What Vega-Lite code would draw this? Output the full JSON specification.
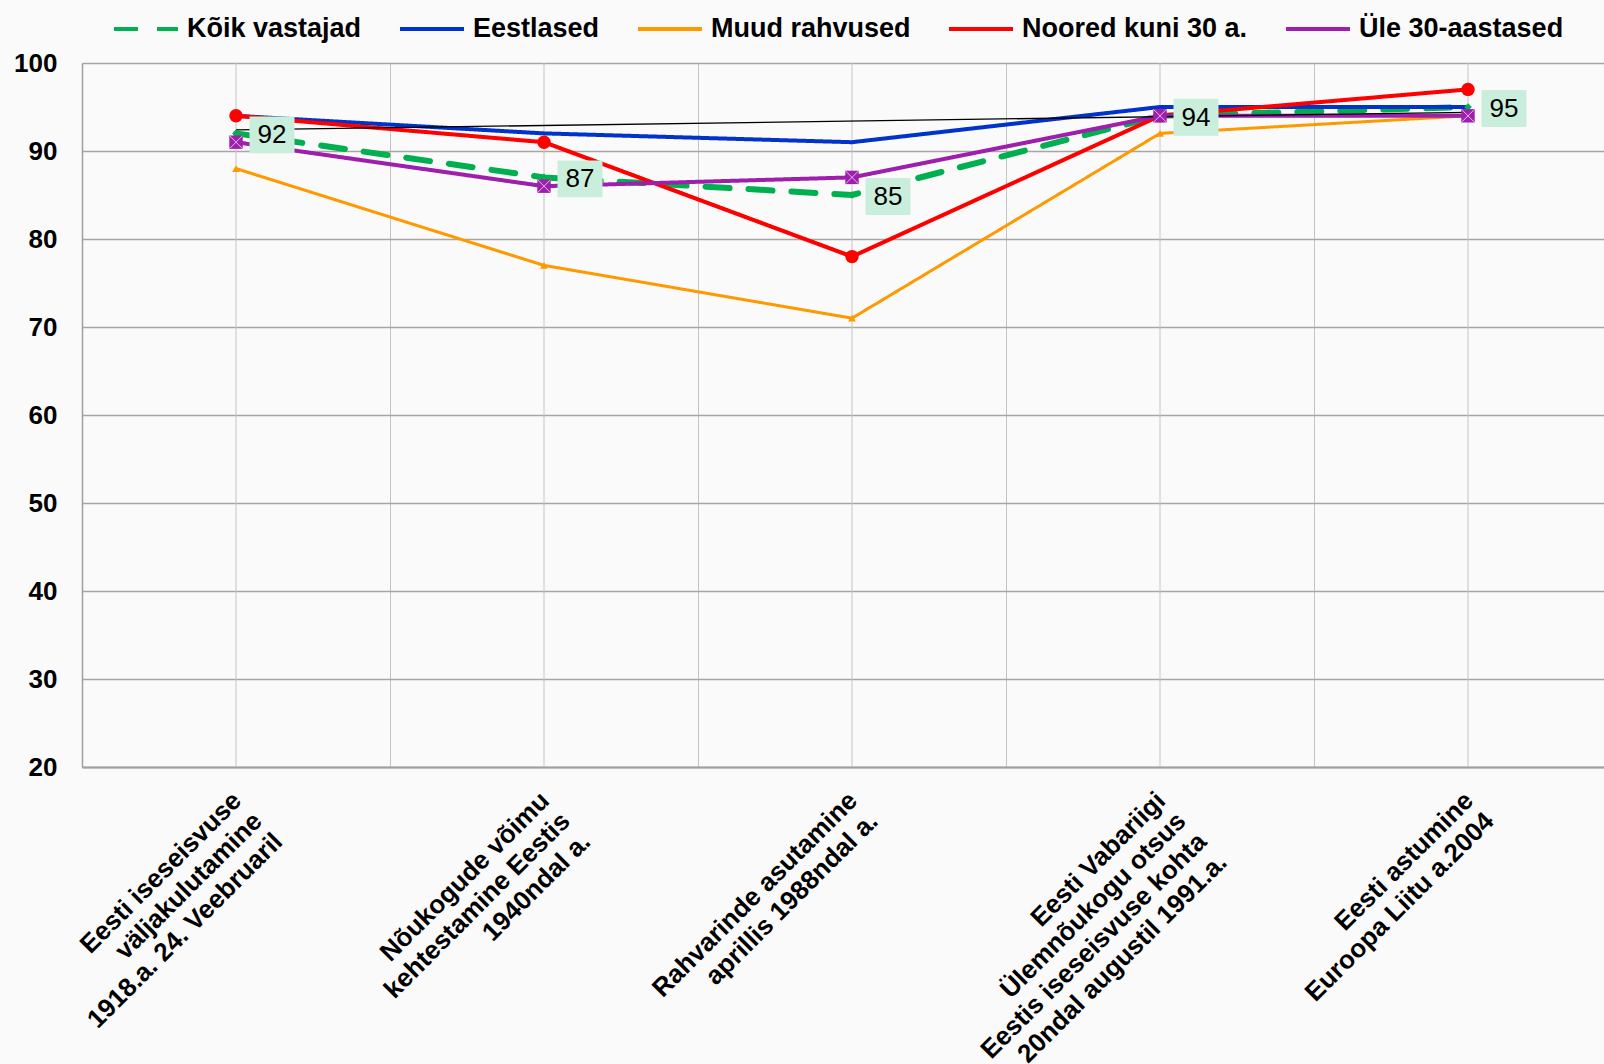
{
  "$schema": "https://vega.github.io/schema/vega-lite/v6.json",
  "width": 1522,
  "height": 704,
  "autosize": "none",
  "padding": {"left": 82, "top": 63, "right": 0, "bottom": 297},
  "background": "#fafafa",
  "config": {
    "view": {"stroke": null},
    "font": "Liberation Sans",
    "axis": {"title": null}
  },
  "datasets": {
    "d": [
      {"cat": "Eesti iseseisvuse|väljakulutamine|1918.a. 24. Veebruaril", "series": "Kõik vastajad", "value": 92},
      {"cat": "Nõukogude võimu|kehtestamine Eestis|1940ndal a.", "series": "Kõik vastajad", "value": 87},
      {"cat": "Rahvarinde asutamine|aprillis 1988ndal a.", "series": "Kõik vastajad", "value": 85},
      {"cat": "Eesti Vabariigi|Ülemnõukogu otsus|Eestis iseseisvuse kohta|20ndal augustil 1991.a.", "series": "Kõik vastajad", "value": 94},
      {"cat": "Eesti astumine|Euroopa Liitu a.2004", "series": "Kõik vastajad", "value": 95},
      {"cat": "Eesti iseseisvuse|väljakulutamine|1918.a. 24. Veebruaril", "series": "Eestlased", "value": 94},
      {"cat": "Nõukogude võimu|kehtestamine Eestis|1940ndal a.", "series": "Eestlased", "value": 92},
      {"cat": "Rahvarinde asutamine|aprillis 1988ndal a.", "series": "Eestlased", "value": 91},
      {"cat": "Eesti Vabariigi|Ülemnõukogu otsus|Eestis iseseisvuse kohta|20ndal augustil 1991.a.", "series": "Eestlased", "value": 95},
      {"cat": "Eesti astumine|Euroopa Liitu a.2004", "series": "Eestlased", "value": 95},
      {"cat": "Eesti iseseisvuse|väljakulutamine|1918.a. 24. Veebruaril", "series": "Muud rahvused", "value": 88},
      {"cat": "Nõukogude võimu|kehtestamine Eestis|1940ndal a.", "series": "Muud rahvused", "value": 77},
      {"cat": "Rahvarinde asutamine|aprillis 1988ndal a.", "series": "Muud rahvused", "value": 71},
      {"cat": "Eesti Vabariigi|Ülemnõukogu otsus|Eestis iseseisvuse kohta|20ndal augustil 1991.a.", "series": "Muud rahvused", "value": 92},
      {"cat": "Eesti astumine|Euroopa Liitu a.2004", "series": "Muud rahvused", "value": 94},
      {"cat": "Eesti iseseisvuse|väljakulutamine|1918.a. 24. Veebruaril", "series": "Noored kuni 30 a.", "value": 94},
      {"cat": "Nõukogude võimu|kehtestamine Eestis|1940ndal a.", "series": "Noored kuni 30 a.", "value": 91},
      {"cat": "Rahvarinde asutamine|aprillis 1988ndal a.", "series": "Noored kuni 30 a.", "value": 78},
      {"cat": "Eesti Vabariigi|Ülemnõukogu otsus|Eestis iseseisvuse kohta|20ndal augustil 1991.a.", "series": "Noored kuni 30 a.", "value": 94},
      {"cat": "Eesti astumine|Euroopa Liitu a.2004", "series": "Noored kuni 30 a.", "value": 97},
      {"cat": "Eesti iseseisvuse|väljakulutamine|1918.a. 24. Veebruaril", "series": "Üle 30-aastased", "value": 91},
      {"cat": "Nõukogude võimu|kehtestamine Eestis|1940ndal a.", "series": "Üle 30-aastased", "value": 86},
      {"cat": "Rahvarinde asutamine|aprillis 1988ndal a.", "series": "Üle 30-aastased", "value": 87},
      {"cat": "Eesti Vabariigi|Ülemnõukogu otsus|Eestis iseseisvuse kohta|20ndal augustil 1991.a.", "series": "Üle 30-aastased", "value": 94},
      {"cat": "Eesti astumine|Euroopa Liitu a.2004", "series": "Üle 30-aastased", "value": 94}
    ],
    "trend": [
      {"cat": "Eesti iseseisvuse|väljakulutamine|1918.a. 24. Veebruaril", "value": 92.4},
      {"cat": "Eesti astumine|Euroopa Liitu a.2004", "value": 94.4}
    ]
  },
  "layer": [
    {
      "data": {"name": "d"},
      "transform": [{"filter": "datum.series == 'Kõik vastajad'"}],
      "mark": {"type": "rule", "color": "#c4c4c4", "strokeWidth": 1},
      "encoding": {
        "x": {"field": "cat", "type": "nominal", "sort": null,
          "scale": {"domain": ["Eesti iseseisvuse|väljakulutamine|1918.a. 24. Veebruaril", "Nõukogude võimu|kehtestamine Eestis|1940ndal a.", "Rahvarinde asutamine|aprillis 1988ndal a.", "Eesti Vabariigi|Ülemnõukogu otsus|Eestis iseseisvuse kohta|20ndal augustil 1991.a.", "Eesti astumine|Euroopa Liitu a.2004"], "range": [0, 1540], "paddingInner": 0, "paddingOuter": 0}}
      }
    },
    {
      "data": {"name": "d"},
      "mark": {"type": "line", "strokeCap": "round", "strokeJoin": "round"},
      "encoding": {
        "x": {"field": "cat", "type": "nominal", "sort": null,
          "scale": {"domain": ["Eesti iseseisvuse|väljakulutamine|1918.a. 24. Veebruaril", "Nõukogude võimu|kehtestamine Eestis|1940ndal a.", "Rahvarinde asutamine|aprillis 1988ndal a.", "Eesti Vabariigi|Ülemnõukogu otsus|Eestis iseseisvuse kohta|20ndal augustil 1991.a.", "Eesti astumine|Euroopa Liitu a.2004"], "range": [0, 1540], "paddingInner": 0, "paddingOuter": 0},
          "axis": {
            "bandPosition": 0, "grid": true, "gridColor": "#c4c4c4", "gridWidth": 1,
            "ticks": false, "domainColor": "#a0a0a0", "domainWidth": 2,
            "labelExpr": "split(datum.label, '|')",
            "labelAngle": -45, "labelAlign": "right", "labelBaseline": "top",
            "labelFont": "Liberation Sans", "labelFontSize": 26, "labelFontWeight": "bold",
            "labelLineHeight": 29, "labelColor": "#000000",
            "labelOffset": -8, "labelPadding": 20, "labelLimit": 1000, "labelOverlap": false
          }
        },
        "y": {"field": "value", "type": "quantitative",
          "scale": {"domain": [20, 100], "nice": false, "zero": false},
          "axis": {
            "values": [20, 30, 40, 50, 60, 70, 80, 90, 100],
            "grid": true, "gridColor": "#a6a6a6", "gridWidth": 1.5,
            "ticks": false, "domainColor": "#a0a0a0", "domainWidth": 1.5,
            "labelFont": "Liberation Sans", "labelFontSize": 26, "labelFontWeight": "bold",
            "labelColor": "#000000", "labelPadding": 25
          }
        },
        "color": {"field": "series", "type": "nominal",
          "scale": {"domain": ["Kõik vastajad", "Eestlased", "Muud rahvused", "Noored kuni 30 a.", "Üle 30-aastased"],
                    "range": ["#00b050", "#0033cc", "#ff9900", "#ff0000", "#9d1fab"]},
          "legend": {
            "title": null, "orient": "none", "legendX": 30, "legendY": -68,
            "direction": "horizontal", "columns": 5, "gridAlign": "none", "columnPadding": 30,
            "symbolType": "stroke", "symbolSize": 4096, "symbolStrokeWidth": 4,
            "labelFont": "Liberation Sans", "labelFontSize": 27, "labelFontWeight": "bold",
            "labelColor": "#000000", "labelOffset": 7, "labelLimit": 500
          }
        },
        "strokeDash": {"field": "series", "type": "nominal",
          "scale": {"domain": ["Kõik vastajad", "Eestlased", "Muud rahvused", "Noored kuni 30 a.", "Üle 30-aastased"],
                    "range": [[24, 19], [1, 0], [1, 0], [1, 0], [1, 0]]}
        },
        "strokeWidth": {
          "condition": [
            {"test": "datum.series == 'Kõik vastajad'", "value": 6},
            {"test": "datum.series == 'Muud rahvused'", "value": 3}
          ],
          "value": 4
        }
      }
    },
    {
      "data": {"name": "trend"},
      "mark": {"type": "line", "color": "#000000", "strokeWidth": 1.3},
      "encoding": {
        "x": {"field": "cat", "type": "nominal", "sort": null},
        "y": {"field": "value", "type": "quantitative", "scale": {"domain": [20, 100], "nice": false, "zero": false}}
      }
    },
    {
      "data": {"name": "d"},
      "transform": [{"filter": "datum.series != 'Eestlased'"}],
      "mark": {"type": "point", "filled": true, "opacity": 1},
      "encoding": {
        "x": {"field": "cat", "type": "nominal", "sort": null},
        "y": {"field": "value", "type": "quantitative", "scale": {"domain": [20, 100], "nice": false, "zero": false}},
        "color": {"field": "series", "type": "nominal", "legend": null},
        "shape": {"field": "series", "type": "nominal", "legend": null,
          "scale": {"domain": ["Kõik vastajad", "Muud rahvused", "Noored kuni 30 a.", "Üle 30-aastased"],
                    "range": ["diamond", "triangle-up", "circle", "square"]}},
        "size": {
          "condition": [
            {"test": "datum.series == 'Noored kuni 30 a.'", "value": 180},
            {"test": "datum.series == 'Üle 30-aastased'", "value": 180}
          ],
          "value": 60
        }
      }
    },
    {
      "data": {"name": "d"},
      "transform": [{"filter": "datum.series == 'Üle 30-aastased'"}],
      "mark": {"type": "point", "shape": "M-1,-1L1,1M1,-1L-1,1", "filled": false, "stroke": "#e6b8ee", "strokeWidth": 1, "size": 170, "opacity": 1},
      "encoding": {
        "x": {"field": "cat", "type": "nominal", "sort": null},
        "y": {"field": "value", "type": "quantitative", "scale": {"domain": [20, 100], "nice": false, "zero": false}}
      }
    },
    {
      "data": {"name": "d"},
      "transform": [{"filter": "datum.series == 'Kõik vastajad'"}],
      "mark": {"type": "point", "shape": "M-1,-0.82H1V0.82H-1Z", "filled": true, "color": "#c9eedb", "size": 2025, "opacity": 1, "xOffset": 36, "yOffset": 1.5},
      "encoding": {
        "x": {"field": "cat", "type": "nominal", "sort": null},
        "y": {"field": "value", "type": "quantitative", "scale": {"domain": [20, 100], "nice": false, "zero": false}}
      }
    },
    {
      "data": {"name": "d"},
      "transform": [{"filter": "datum.series == 'Kõik vastajad'"}],
      "mark": {"type": "text", "font": "Liberation Sans", "fontSize": 26, "color": "#000000", "dx": 36, "dy": 2, "align": "center", "baseline": "middle"},
      "encoding": {
        "x": {"field": "cat", "type": "nominal", "sort": null},
        "y": {"field": "value", "type": "quantitative", "scale": {"domain": [20, 100], "nice": false, "zero": false}},
        "text": {"field": "value", "type": "quantitative"}
      }
    }
  ]
}
